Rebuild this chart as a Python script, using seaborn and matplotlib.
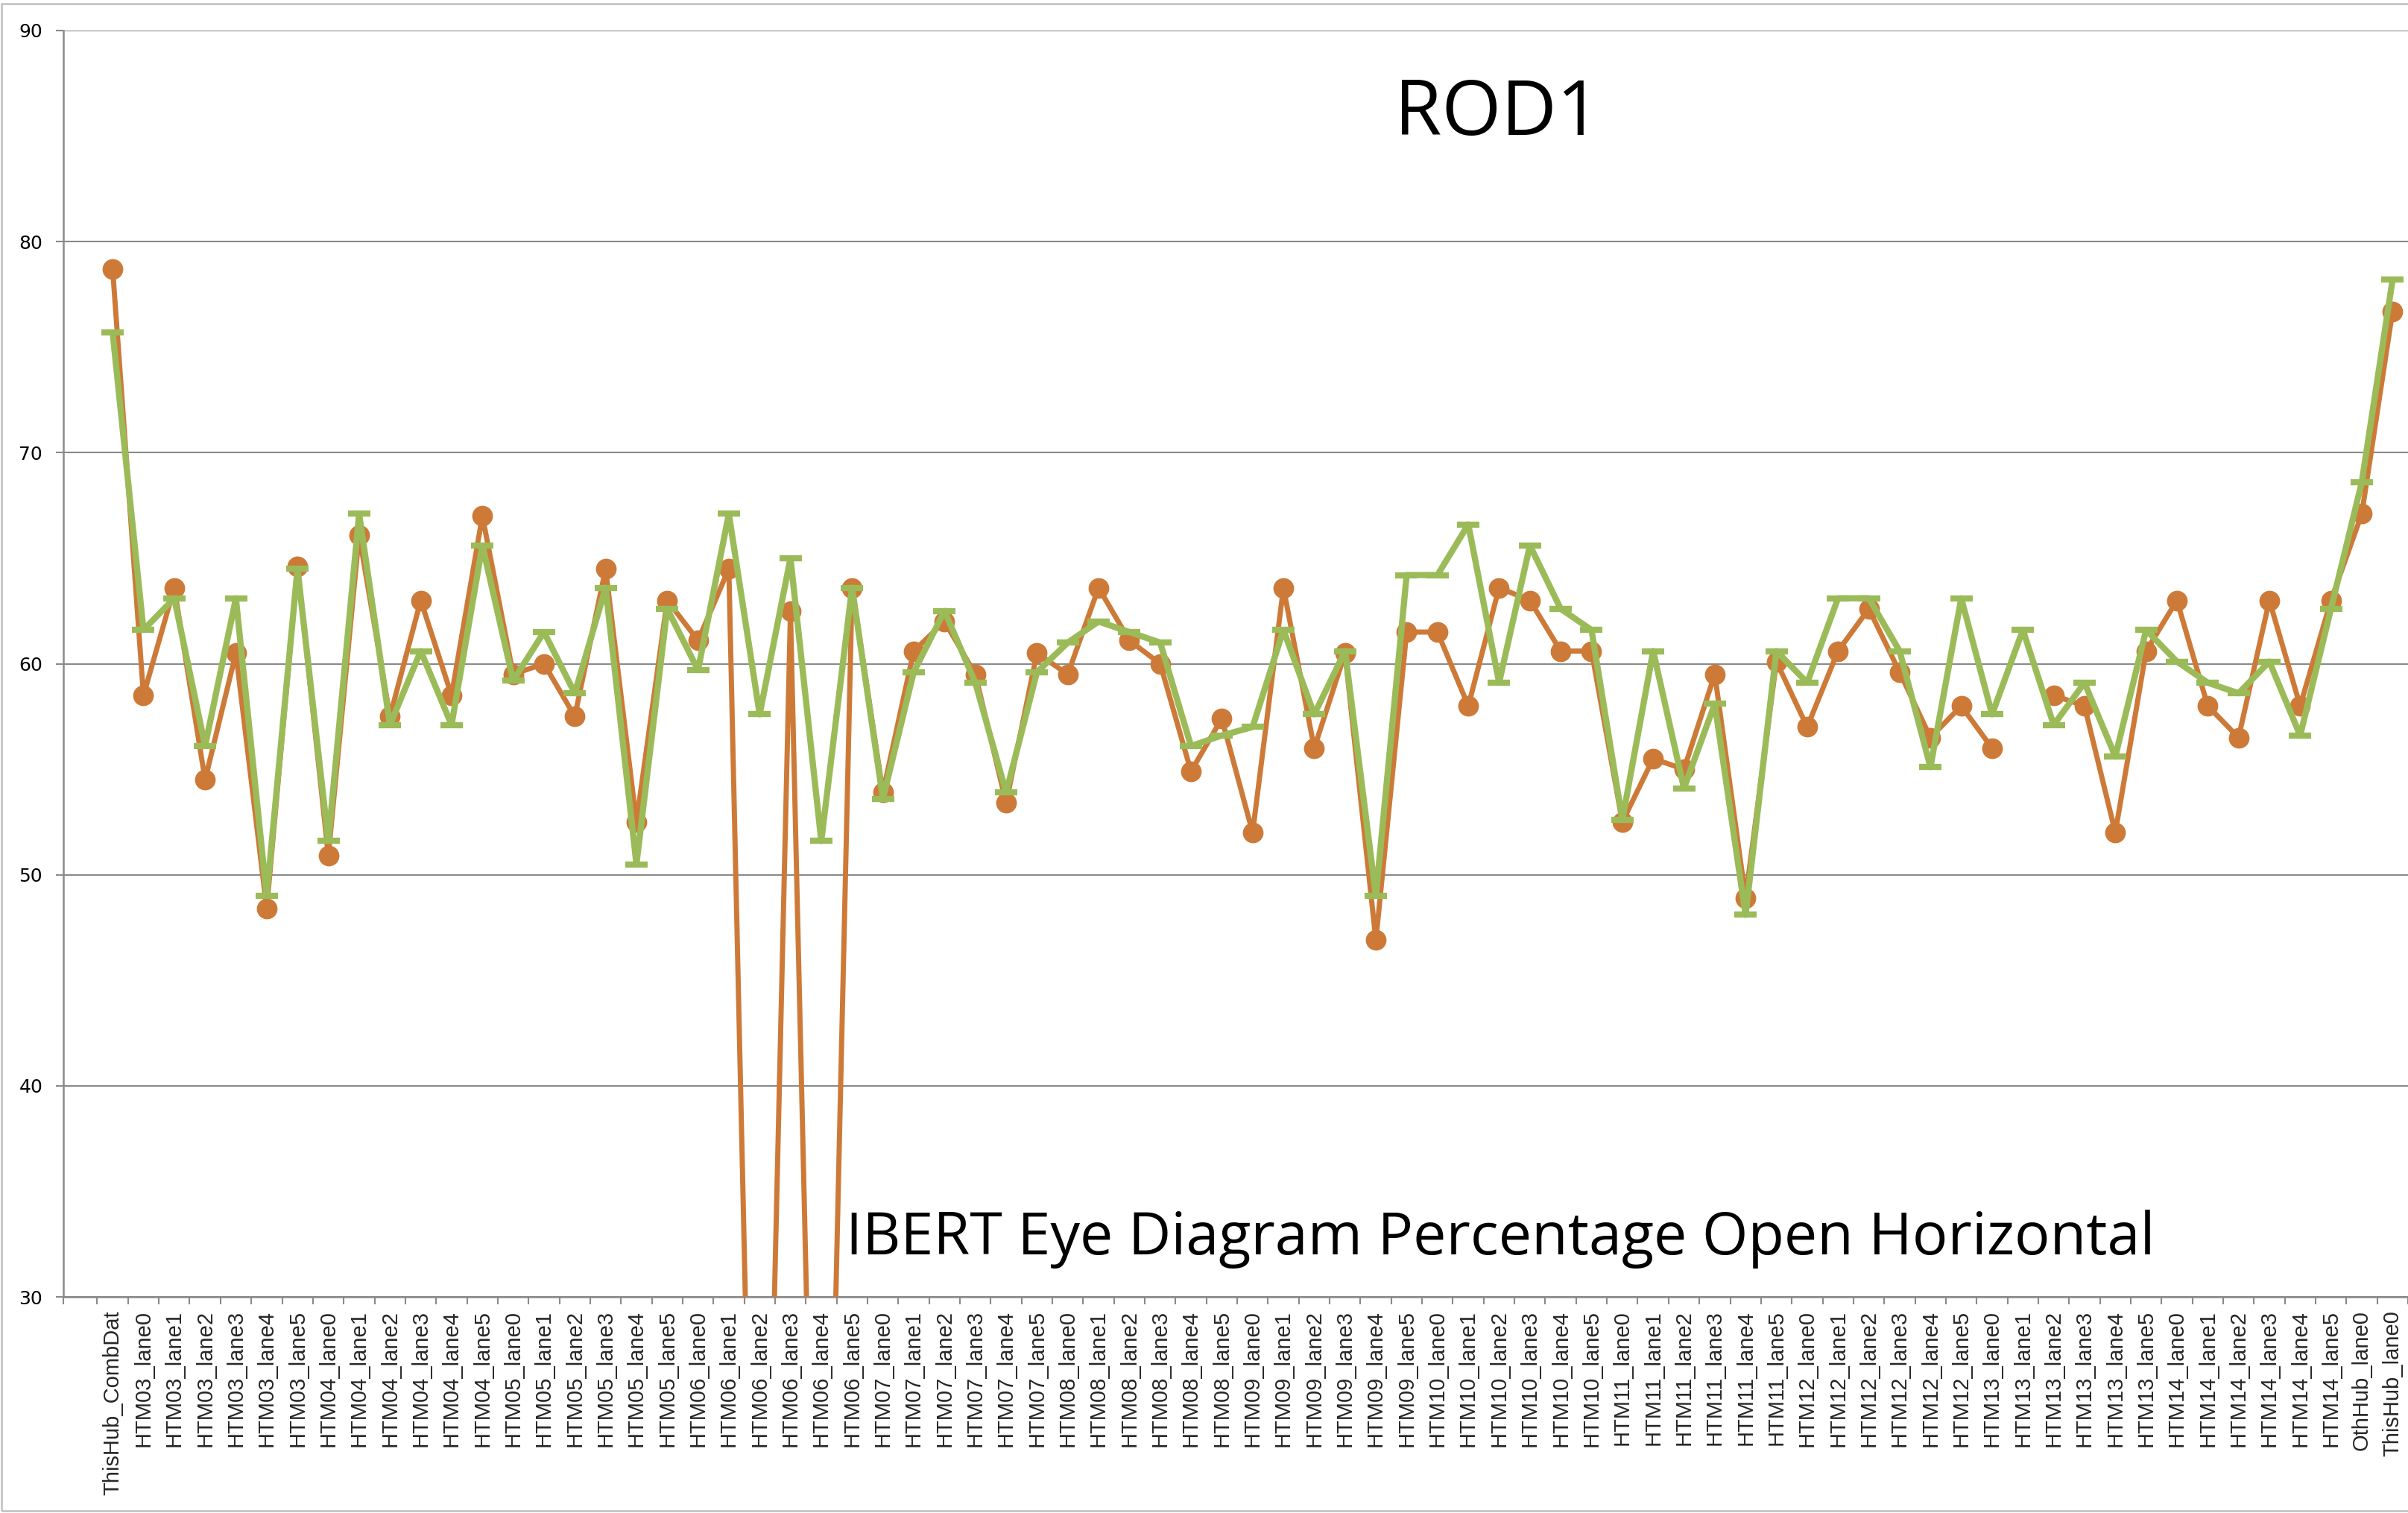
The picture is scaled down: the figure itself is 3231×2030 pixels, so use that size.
"""ROD1 - IBERT eye diagram, percentage open horizontal, per lane."""

import matplotlib

matplotlib.use("Agg")
import matplotlib.pyplot as plt
import numpy as np
import pandas as pd
import seaborn as sns
from matplotlib.patches import Rectangle

# categories: combined data, HTM03..HTM14 lanes 0-5, then the two hub lanes
lanes = (
    ["ThisHub_CombDat"]
    + [f"HTM{m:02d}_lane{l}" for m in range(3, 15) for l in range(6)]
    + ["OthHub_lane0", "ThisHub_lane0"]
)

# orange series (circle markers); 0.0 = dropped far below the axis, nan = no value
orange_vals = [
    78.7, 58.5, 63.6, 54.5, 60.5, 48.4, 64.6, 50.9, 66.1, 57.5, 63.0, 58.5,
    67.0, 59.5, 60.0, 57.5, 64.5, 52.5, 63.0, 61.1, 64.5, 0.0, 62.5, 0.0,
    63.6, 53.9, 60.6, 62.0, 59.5, 53.4, 60.5, 59.5, 63.6, 61.1, 60.0, 54.9,
    57.4, 52.0, 63.6, 56.0, 60.5, 46.9, 61.5, 61.5, 58.0, 63.6, 63.0, 60.6,
    60.6, 52.5, 55.5, 55.0, 59.5, 48.9, 60.1, 57.0, 60.6, 62.6, 59.6, 56.5,
    58.0, 56.0, np.nan, 58.5, 58.0, 52.0, 60.6, 63.0, 58.0, 56.5, 63.0, 58.0,
    63.0, 67.1, 76.7,
]

# green series (dash markers)
green_vals = [
    75.7, 61.6, 63.1, 56.1, 63.1, 49.0, 64.5, 51.6, 67.1, 57.1, 60.6, 57.1,
    65.6, 59.2, 61.5, 58.6, 63.6, 50.5, 62.6, 59.7, 67.1, 57.6, 65.0, 51.6,
    63.6, 53.6, 59.6, 62.5, 59.1, 53.9, 59.6, 61.0, 62.0, 61.5, 61.0, 56.1,
    56.6, 57.0, 61.6, 57.6, 60.6, 49.0, 64.2, 64.2, 66.6, 59.1, 65.6, 62.6,
    61.6, 52.6, 60.6, 54.1, 58.1, 48.1, 60.6, 59.1, 63.1, 63.1, 60.6, 55.1,
    63.1, 57.6, 61.6, 57.1, 59.1, 55.6, 61.6, 60.1, 59.1, 58.6, 60.1, 56.6,
    62.6, 68.6, 78.2,
]

y_ticks = [30, 40, 50, 60, 70, 80, 90]

ORANGE = "#CD7A38"
GREEN = "#9BBB59"
GRID = "#8A8A8A"


def _segments(pos, vals):
    """Split into runs without NaN so the line keeps its gaps."""
    df = pd.DataFrame({"pos": pos, "val": vals})
    ok = df["val"].notna()
    run = (~ok).cumsum()
    for _, chunk in df[ok].groupby(run[ok]):
        yield chunk


sns.set_style("white")
plt.rcParams["font.family"] = ["DejaVu Sans"]

W, H, DPI = 3231, 2030, 100
fig = plt.figure(figsize=(W / DPI, H / DPI), dpi=DPI, facecolor="white")
ax = fig.add_axes([85 / W, 1 - 1740 / H, 1 - 85 / W, (1740 - 41) / H])

pos = np.arange(len(lanes))

for chunk in _segments(pos, orange_vals):
    sns.lineplot(
        data=chunk, x="pos", y="val", ax=ax, color=ORANGE, lw=5.0,
        marker="o", markersize=20, markeredgewidth=0, markeredgecolor=ORANGE,
        sort=False, estimator=None, legend=False, zorder=3,
    )

for chunk in _segments(pos, green_vals):
    sns.lineplot(
        data=chunk, x="pos", y="val", ax=ax, color=GREEN, lw=6.0,
        marker="_", markersize=22, markeredgewidth=6, markeredgecolor=GREEN,
        sort=False, estimator=None, legend=False, zorder=4,
    )

x_left = -1.6
ax.set_xlim(x_left, 74.1)
ax.set_ylim(30, 90)
ax.set_xlabel("")
ax.set_ylabel("")

ax.set_yticks(y_ticks)
ax.set_yticklabels([str(v) for v in y_ticks], fontsize=18, color="black")
ax.yaxis.grid(True, color=GRID, lw=1.5)
ax.xaxis.grid(False)
ax.set_axisbelow(True)

ax.set_xticks(pos)
ax.set_xticklabels(lanes, rotation=90, fontsize=21, family="Liberation Sans")
ax.set_xticks([x_left] + list(np.arange(-0.5, 75, 1)), minor=True)
ax.tick_params(axis="x", which="major", length=0, pad=13)
ax.tick_params(axis="x", which="minor", length=7, width=1.5, color=GRID,
               direction="out", bottom=True)
ax.tick_params(axis="y", length=7, width=1.5, color=GRID, direction="out",
               left=True, pad=13)

for side in ("top", "right"):
    ax.spines[side].set_visible(False)
for side in ("left", "bottom"):
    ax.spines[side].set_color(GRID)
    ax.spines[side].set_linewidth(1.8)

fig.text(0.622, 0.924, "ROD1", ha="center", va="center", fontsize=74,
         family="Open Sans", color="black")
fig.text(0.623, 0.181, "IBERT Eye Diagram Percentage Open Horizontal",
         ha="center", va="center", fontsize=57, family="Open Sans",
         color="black")

# chart-area border (cropped on the right)
fig.patches.append(Rectangle((2 / W, 1 - 2027 / H), 1.0, (2027 - 5) / H,
                             transform=fig.transFigure, fill=False,
                             edgecolor="#BFBFBF", lw=1.8))

fig.savefig("out.png", dpi=DPI, facecolor="white")
